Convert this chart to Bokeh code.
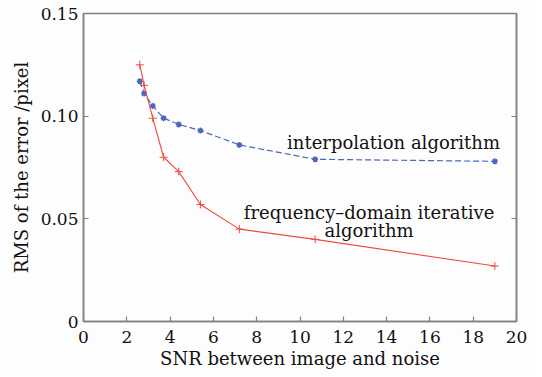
from bokeh.plotting import figure
from bokeh.models import Range1d, FixedTicker, Label, LinearAxis
from bokeh.embed import file_html
from bokeh.resources import INLINE

snr = [2.6, 2.8, 3.2, 3.7, 4.4, 5.4, 7.2, 10.7, 19.0]
rms_interp = [0.117, 0.111, 0.105, 0.099, 0.096, 0.093, 0.086, 0.079, 0.078]
rms_freq = [0.125, 0.115, 0.099, 0.080, 0.073, 0.057, 0.045, 0.040, 0.027]
x_ticks = [0, 2, 4, 6, 8, 10, 12, 14, 16, 18, 20]
y_ticks = [0, 0.05, 0.10, 0.15]
y_labels = {0: "0", 0.05: "0.05", 0.1: "0.10", 0.15: "0.15"}

FONT = "DejaVu Serif"
p = figure(width=534, height=376, output_backend="svg", toolbar_location=None,
           x_range=Range1d(0, 20), y_range=Range1d(0, 0.15),
           min_border_left=83, min_border_right=18, min_border_top=13, min_border_bottom=55)
p.background_fill_color = "#fdfdfd"
p.border_fill_color = "#fdfdfd"
p.grid.visible = False
p.outline_line_color = "#808080"
p.outline_line_width = 1.5

def style(ax, labels=True):
    ax.axis_line_color = "#808080"
    ax.axis_line_width = 1.5
    ax.major_tick_line_color = "#808080"
    ax.major_tick_line_width = 1.2
    ax.major_tick_in = 5
    ax.major_tick_out = 0
    ax.minor_tick_line_color = None
    ax.major_label_text_font = FONT
    ax.major_label_text_font_size = "17px"
    ax.major_label_text_color = "#111111" if labels else None
    ax.axis_label_text_font = FONT
    ax.axis_label_text_font_size = "18px"
    ax.axis_label_text_font_style = "normal"
    ax.axis_label_text_color = "#111111"

style(p.xaxis[0])
style(p.yaxis[0])
p.xaxis.ticker = FixedTicker(ticks=x_ticks)
p.yaxis.ticker = FixedTicker(ticks=y_ticks)
p.yaxis.major_label_overrides = y_labels
p.xaxis.axis_label = "SNR between image and noise"
p.yaxis.axis_label = "RMS of the error /pixel"
p.xaxis.major_label_standoff = 9
p.xaxis.axis_label_standoff = 2
p.yaxis.major_label_standoff = 5
p.yaxis.axis_label_standoff = 6

ra = LinearAxis(ticker=FixedTicker(ticks=y_ticks))
style(ra, labels=False)
ra.major_label_text_font_size = "1px"
p.add_layout(ra, "right")

blue = "#4a66c0"
red = "#f04a3a"
p.line(snr, rms_interp, line_color=blue, line_dash="6 3", line_width=1.2)
p.scatter(snr, rms_interp, marker="asterisk", size=6, line_color=blue, line_width=1.5)
p.line(snr, rms_freq, line_color=red, line_width=1.1)
p.scatter(snr, rms_freq, marker="cross", size=8, line_color=red, line_width=1)

for txt, x, y in [("interpolation algorithm", 14.32, 0.0873),
                  ("frequency\u2013domain iterative", 13.19, 0.0529),
                  ("algorithm", 13.19, 0.0441)]:
    p.add_layout(Label(x=x, y=y, text=txt, text_align="center", text_baseline="middle",
                       text_font=FONT, text_font_size="18px", text_color="#111111"))

open("out.html", "w").write(file_html(p, INLINE))
